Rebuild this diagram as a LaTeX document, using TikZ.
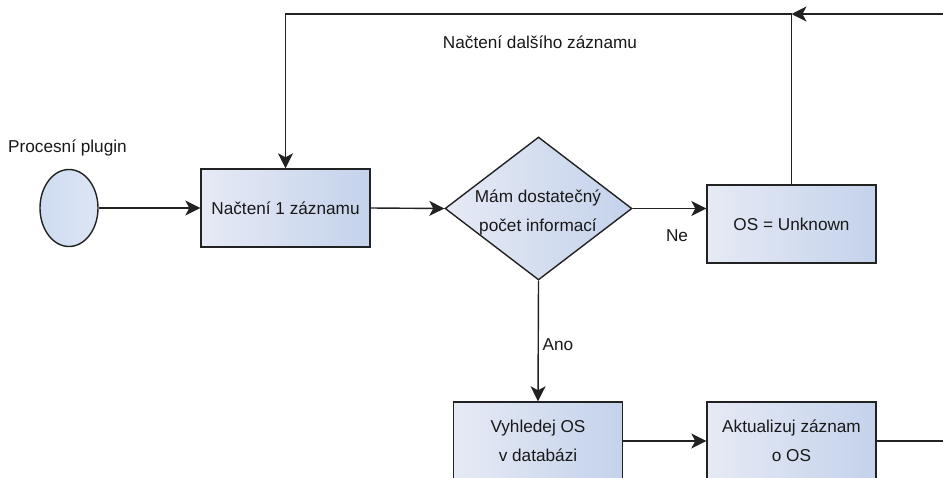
\documentclass[tikz,border=0pt]{standalone}
\usepackage{fontspec}
\setmainfont{Liberation Sans}
\usetikzlibrary{shapes.geometric,arrows.meta}
\definecolor{fillL}{RGB}{230,234,245}
\definecolor{fillR}{RGB}{196,210,235}
\definecolor{ovalL}{RGB}{206,220,241}
\definecolor{ovalR}{RGB}{220,229,244}
\definecolor{edge}{RGB}{34,34,34}
\begin{document}
\begin{tikzpicture}[x=1pt,y=-1pt,
  every node/.style={font=\fontsize{17.2}{29}\selectfont,text=black!90},
  flowline/.style={line width=1.4pt,draw=edge},
  flowarrow/.style={flowline,-{Stealth[length=15pt,width=15pt,inset=4pt]}},
  procbox/.style={draw=edge,line width=1.4pt,rectangle,minimum width=169pt,minimum height=78pt,
    left color=fillL,right color=fillR,align=center,inner sep=0pt},
  decision/.style={draw=edge,line width=1.4pt,diamond,minimum width=187pt,minimum height=143pt,
    inner sep=0pt,left color=fillL,right color=fillR},
  startnode/.style={draw=edge,line width=1.4pt,ellipse,minimum width=58pt,minimum height=77pt,
    inner sep=0pt,left color=ovalL,right color=ovalR},
  plain/.style={inner sep=0pt,align=center}]
\path[use as bounding box,clip] (0,0) rectangle (943,477);
\fill[white] (0,0) rectangle (943,477);

% nodes
\node[startnode] (start) at (69,208) {};
\node[plain,anchor=west] (startlbl) at (8,148) {Procesní plugin};
\node[procbox] (read) at (285.5,208) {Načtení 1 záznamu};
\node[decision] (dec) at (538.5,208.5) {};
\node[plain] (dectxt) at (538,212) {Mám dostatečný\\počet informací};
\node[procbox] (unk) at (791.5,224) {OS = Unknown};
\node[procbox] (find) at (538,441) {Vyhledej OS\\v databázi};
\node[procbox] (upd) at (791.5,441) {Aktualizuj záznam\\o OS};

\coordinate (topR) at (943,14);
\coordinate (outR) at (943,441);

% connectors
\draw[flowarrow] (start.east) -- (read.west);
\draw[flowarrow] (read.east) -- (dec.west);
\draw[flowarrow] (dec.east) -- (dec.east -| unk.west);
\draw[flowarrow] (dec.south) -- (find.north);
\draw[flowarrow] (find.east) -- (upd.west);
\draw[flowline] (upd.east) -- (outR);
\draw[flowarrow] (topR) -- (unk.north |- topR);
\draw[flowarrow] (unk.north) -- (unk.north |- topR) -- (read.north |- topR) -- (read.north);

% labels
\node[plain] (nextlbl) at (540,42) {Načtení dalšího záznamu};
\node[plain] (nolbl) at (677,236) {Ne};
\node[plain] (yeslbl) at (558,345) {Ano};
\end{tikzpicture}
\end{document}
